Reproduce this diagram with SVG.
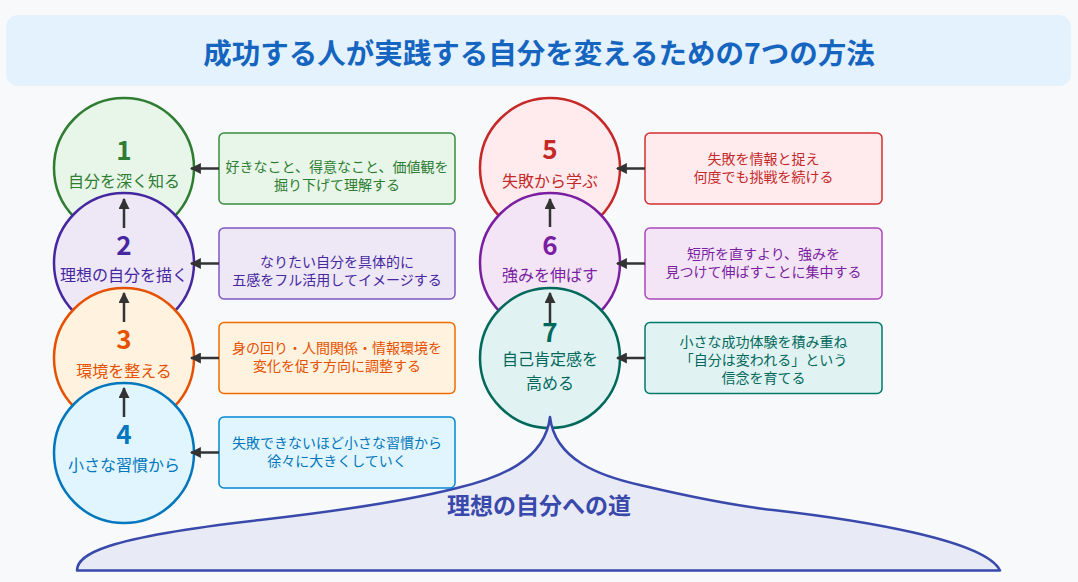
<svg xmlns="http://www.w3.org/2000/svg" width="1078" height="582" viewBox="0 0 1078 582">
<defs>
<marker id="arr" viewBox="0 0 10 10" refX="9" refY="5" markerUnits="userSpaceOnUse" markerWidth="11" markerHeight="11" orient="auto">
<path d="M0,0 L10,5 L0,10 z" fill="#333333"/>
</marker>
<style>
text{font-family:"Noto Sans CJK JP","Noto Sans",sans-serif;text-anchor:middle;dominant-baseline:central}
.num{font-size:26px;font-weight:bold}
.lbl{font-size:16px}
.desc{font-size:14px}
.circ{stroke-width:2.5}
.box{stroke-width:1.5}
.conn line{stroke:#333333;stroke-width:2.5;marker-end:url(#arr)}
</style>
</defs>
<rect x="0" y="0" width="1078" height="582" fill="#F8F9FB"/>
<g id="title">
<rect x="6" y="15" width="1065" height="71" rx="12" fill="#E3F2FD"/>
<text x="539" y="51" font-size="28.5" font-weight="bold" fill="#1565C0">成功する人が実践する自分を変えるための7つの方法</text>
</g>
<g id="node1">
<circle class="circ" cx="124" cy="168" r="70" fill="#E8F5E9" stroke="#2E7D32"/>
<text class="num" x="124" y="148" fill="#2E7D32">1</text>
<text class="lbl" x="124" y="180" fill="#2E7D32">自分を深く知る</text>
</g>
<g id="node2">
<circle class="circ" cx="124" cy="263" r="70" fill="#EDE7F6" stroke="#4527A0"/>
<text class="num" x="124" y="243" fill="#4527A0">2</text>
<text class="lbl" x="124" y="274" fill="#4527A0">理想の自分を描く</text>
</g>
<g id="node3">
<circle class="circ" cx="124" cy="358" r="70" fill="#FFF3E0" stroke="#E65100"/>
<text class="num" x="124" y="337" fill="#E65100">3</text>
<text class="lbl" x="124" y="370" fill="#E65100">環境を整える</text>
</g>
<g id="node4">
<circle class="circ" cx="124" cy="453" r="70" fill="#E1F5FE" stroke="#0277BD"/>
<text class="num" x="124" y="432" fill="#0277BD">4</text>
<text class="lbl" x="124" y="464" fill="#0277BD">小さな習慣から</text>
</g>
<g id="node5">
<circle class="circ" cx="550" cy="168" r="70" fill="#FFEBEE" stroke="#C62828"/>
<text class="num" x="550" y="147" fill="#C62828">5</text>
<text class="lbl" x="550" y="180" fill="#C62828">失敗から学ぶ</text>
</g>
<g id="node6">
<circle class="circ" cx="550" cy="263" r="70" fill="#F3E5F5" stroke="#7B1FA2"/>
<text class="num" x="550" y="243" fill="#7B1FA2">6</text>
<text class="lbl" x="550" y="274" fill="#7B1FA2">強みを伸ばす</text>
</g>
<g id="node7">
<circle class="circ" cx="550" cy="358" r="70" fill="#E0F2F1" stroke="#00695C"/>
<text class="num" x="550" y="330" fill="#00695C">7</text>
<text class="lbl" x="550" y="358" fill="#00695C">自己肯定感を</text>
<text class="lbl" x="550" y="382" fill="#00695C">高める</text>
</g>
<g id="path-road">
<path d="M77,570.5 C77,555 100,538 260,520 C330,512 410,500 457,488 C500,478 545,460 550,417 C555,460 600,476 640,485 C670,492 720,504 773,510 C860,520 985,540 1000,570.5 Z" fill="#E8EAF6" stroke="#3949AB" stroke-width="2.5" stroke-linejoin="round"/>
<text x="539" y="504" font-size="23" font-weight="bold" fill="#3949AB">理想の自分への道</text>
</g>
<g id="desc1">
<rect class="box" x="219" y="133" width="236" height="71" rx="5" fill="#E8F5E9" stroke="#388E3C"/>
<text class="desc" x="337" y="165.5" fill="#2E7D32">好きなこと、得意なこと、価値観を</text>
<text class="desc" x="337" y="183.5" fill="#2E7D32">掘り下げて理解する</text>
</g>
<g id="desc2">
<rect class="box" x="219" y="228" width="236" height="71" rx="5" fill="#EDE7F6" stroke="#7E57C2"/>
<text class="desc" x="337" y="261" fill="#4527A0">なりたい自分を具体的に</text>
<text class="desc" x="337" y="279" fill="#4527A0">五感をフル活用してイメージする</text>
</g>
<g id="desc3">
<rect class="box" x="219" y="322.5" width="236" height="71" rx="5" fill="#FFF3E0" stroke="#EF6C00"/>
<text class="desc" x="337" y="347" fill="#E65100">身の回り・人間関係・情報環境を</text>
<text class="desc" x="337" y="365" fill="#E65100">変化を促す方向に調整する</text>
</g>
<g id="desc4">
<rect class="box" x="219" y="417" width="236" height="71" rx="5" fill="#E1F5FE" stroke="#0288D1"/>
<text class="desc" x="337" y="442" fill="#0277BD">失敗できないほど小さな習慣から</text>
<text class="desc" x="337" y="460" fill="#0277BD">徐々に大きくしていく</text>
</g>
<g id="desc5">
<rect class="box" x="645" y="133" width="237" height="71" rx="5" fill="#FFEBEE" stroke="#D32F2F"/>
<text class="desc" x="763.5" y="158" fill="#C62828">失敗を情報と捉え</text>
<text class="desc" x="763.5" y="176" fill="#C62828">何度でも挑戦を続ける</text>
</g>
<g id="desc6">
<rect class="box" x="645" y="228" width="237" height="71" rx="5" fill="#F3E5F5" stroke="#AB47BC"/>
<text class="desc" x="763.5" y="253" fill="#7B1FA2">短所を直すより、強みを</text>
<text class="desc" x="763.5" y="271" fill="#7B1FA2">見つけて伸ばすことに集中する</text>
</g>
<g id="desc7">
<rect class="box" x="645" y="322.5" width="237" height="71" rx="5" fill="#E0F2F1" stroke="#00796B"/>
<text class="desc" x="763.5" y="341" fill="#00695C">小さな成功体験を積み重ね</text>
<text class="desc" x="763.5" y="359" fill="#00695C">「自分は変われる」という</text>
<text class="desc" x="763.5" y="377" fill="#00695C">信念を育てる</text>
</g>
<g id="connectors" class="conn">
<line x1="124" y1="228" x2="124" y2="199"/>
<line x1="124" y1="322" x2="124" y2="293"/>
<line x1="124" y1="417" x2="124" y2="388"/>
<line x1="550" y1="227" x2="550" y2="199"/>
<line x1="550" y1="323" x2="550" y2="293"/>
<line x1="219" y1="168.5" x2="191" y2="168.5"/>
<line x1="219" y1="263.5" x2="191" y2="263.5"/>
<line x1="219" y1="358" x2="191" y2="358"/>
<line x1="219" y1="452.5" x2="191" y2="452.5"/>
<line x1="645" y1="168.5" x2="617" y2="168.5"/>
<line x1="645" y1="263.5" x2="617" y2="263.5"/>
<line x1="645" y1="358" x2="617" y2="358"/>
</g>
</svg>
